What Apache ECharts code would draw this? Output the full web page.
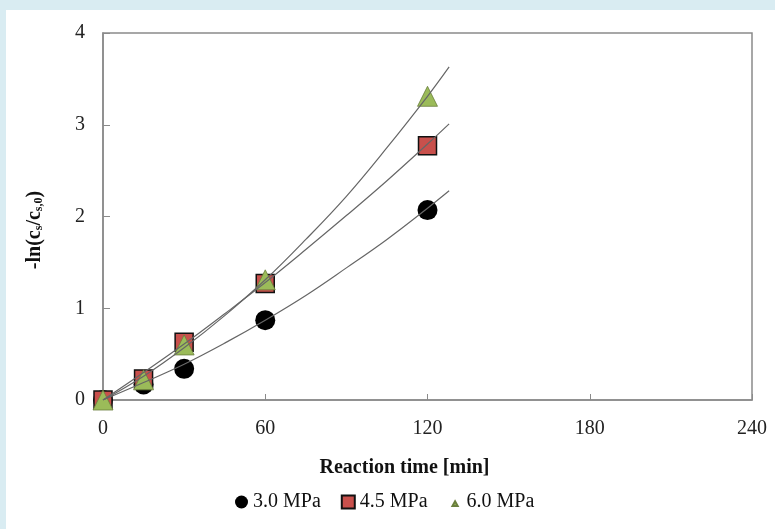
<!DOCTYPE html>
<html>
<head>
<meta charset="utf-8">
<script src="https://cdn.jsdelivr.net/npm/echarts@6/dist/echarts.min.js"></script>
<style>
  html, body { margin: 0; padding: 0; background: #d9ecf2; }
  #chart { position: absolute; left: 6px; top: 10px; width: 769px; height: 519px; background: #fff; }
</style>
</head>
<body>
<div id="chart"></div>
<script>
// measured points (reaction time, -ln(cs/cs0))
const times = [0, 15, 30, 60, 120];
const p30 = [0, 0.17, 0.34, 0.87, 2.07];
const p45 = [0, 0.23, 0.63, 1.27, 2.77];
const p60 = [0, 0.22, 0.60, 1.31, 3.31];

// trend curves
const fitTimes = [0, 15, 30, 45, 60, 75, 90, 105, 120, 128];
const fit30 = [0, 0.19, 0.39, 0.62, 0.87, 1.14, 1.44, 1.75, 2.09, 2.28];
const fit45 = [0, 0.30, 0.61, 0.94, 1.28, 1.64, 2.01, 2.39, 2.79, 3.01];
const fit60 = [0, 0.26, 0.57, 0.92, 1.31, 1.75, 2.22, 2.75, 3.31, 3.63];

const names = ['3.0 MPa', '4.5 MPa', '6.0 MPa'];

const pairs = (xs, ys) => xs.map((x, i) => [x, ys[i]]);
const font = 'Liberation Serif';

const chart = echarts.init(document.getElementById('chart'));

const fitLine = (ys) => ({
  type: 'line',
  data: pairs(fitTimes, ys),
  smooth: 0.4,
  showSymbol: false,
  silent: true,
  z: 5,
  lineStyle: { color: '#666', width: 1.2 }
});

chart.setOption({
  animation: false,
  textStyle: { fontFamily: font },
  grid: {
    left: 97, top: 23, right: 23, bottom: 129,
    show: true, borderColor: '#8a8a8a', borderWidth: 1.5
  },
  legend: {
    left: 224, top: 477,
    itemWidth: 13, itemHeight: 13, itemGap: 20,
    textStyle: { fontFamily: font, fontSize: 20, color: '#111' },
    data: [
      { name: names[0], icon: 'circle' },
      { name: names[1], icon: 'rect' },
      // small triangle: the extra move-to points widen the icon box
      { name: names[2], icon: 'path://M0,0M10,10M3,8L5,4.5L7,8Z' }
    ]
  },
  xAxis: {
    type: 'value', min: 0, max: 240, interval: 60,
    name: 'Reaction time [min]', nameLocation: 'middle', nameGap: 58,
    nameTextStyle: { fontFamily: font, fontSize: 20, fontWeight: 'bold', color: '#111', padding: [0, 46, 0, 0] },
    axisLine: { lineStyle: { color: '#8a8a8a', width: 1.5 } },
    axisTick: { inside: true, length: 6, lineStyle: { color: '#8a8a8a' } },
    axisLabel: { fontFamily: font, fontSize: 20, color: '#222', margin: 19 },
    splitLine: { show: false }
  },
  yAxis: {
    type: 'value', min: 0, max: 4, interval: 1,
    name: '-ln(c{sub|s}/c{sub|s,0})', nameLocation: 'middle', nameGap: 58, nameRotate: 90,
    nameTextStyle: {
      fontFamily: font, fontSize: 20, fontWeight: 'bold', color: '#111', padding: [0, 27, 0, 0],
      rich: { sub: { fontFamily: font, fontSize: 12, fontWeight: 'bold', verticalAlign: 'bottom', padding: [8, 0, 0, 0] } }
    },
    axisLine: { lineStyle: { color: '#8a8a8a', width: 1.5 } },
    axisTick: { inside: true, length: 7, lineStyle: { color: '#8a8a8a' } },
    axisLabel: { fontFamily: font, fontSize: 20, color: '#222', margin: 18 },
    splitLine: { show: false }
  },
  series: [
    {
      name: names[0], type: 'scatter', symbol: 'circle', symbolSize: 20, z: 2,
      data: pairs(times, p30),
      itemStyle: { color: '#000', opacity: 1 }
    },
    {
      name: names[1], type: 'scatter', symbol: 'rect', symbolSize: 18, z: 3,
      data: pairs(times, p45),
      itemStyle: { color: '#c9504c', borderColor: '#111', borderWidth: 1.5, opacity: 1 }
    },
    {
      name: names[2], type: 'scatter', symbol: 'triangle', symbolSize: 20, z: 4,
      data: pairs(times, p60),
      itemStyle: { color: '#9bbb59', borderColor: '#6b7f3e', borderWidth: 0.8, opacity: 1 }
    },
    fitLine(fit30),
    fitLine(fit45),
    fitLine(fit60)
  ]
});
</script>
</body>
</html>
